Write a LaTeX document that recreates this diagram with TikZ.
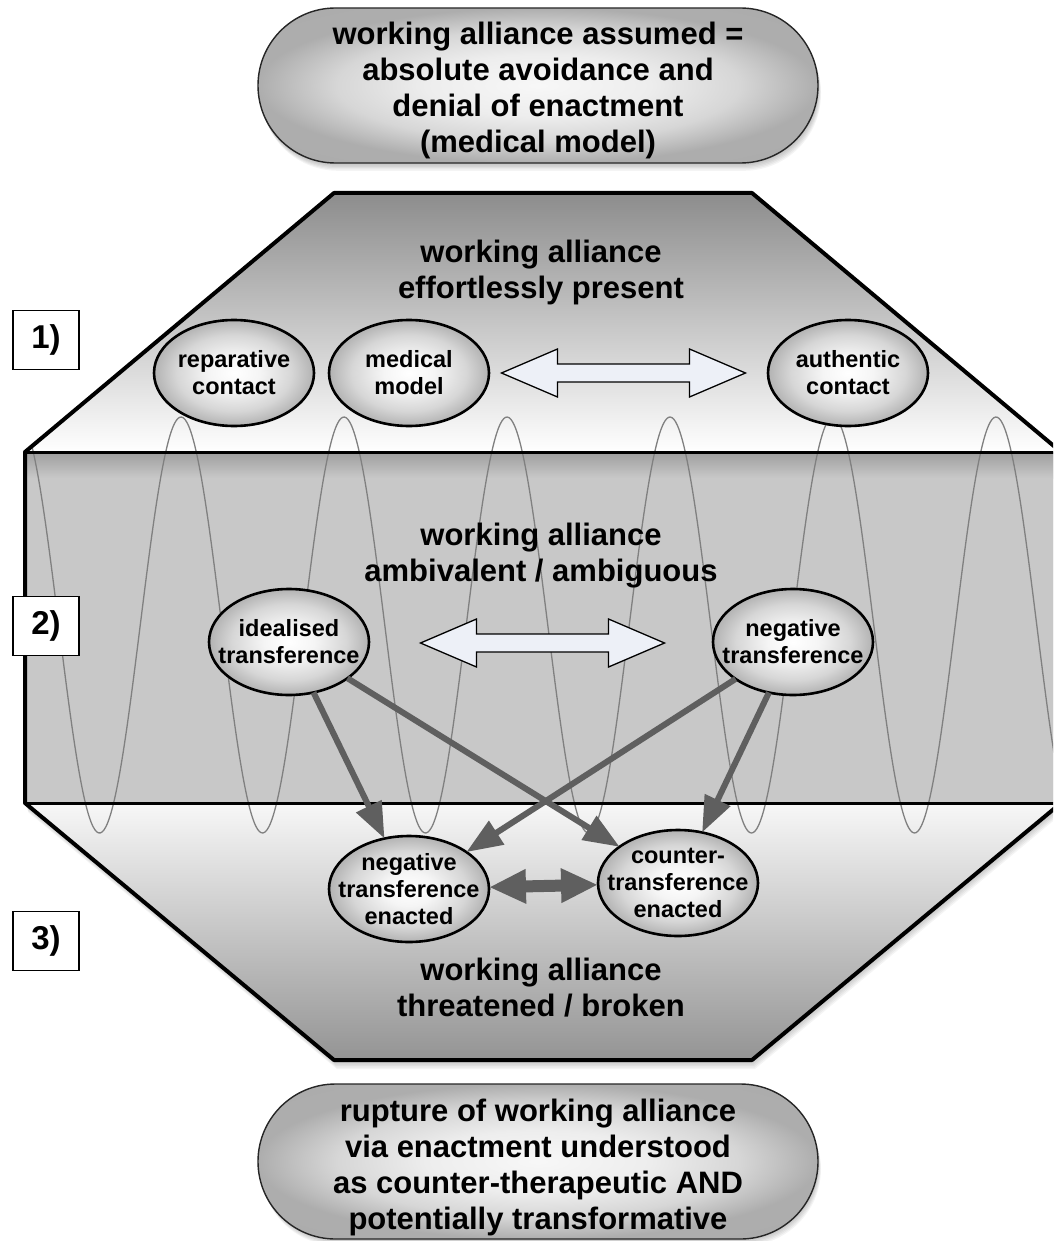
\documentclass[tikz,border=0pt]{standalone}
\usepackage{fontspec}
\setmainfont{Liberation Sans}
\usetikzlibrary{shapes.geometric,shapes.misc,arrows.meta}

\definecolor{bandgray}{RGB}{200,200,200}
\definecolor{wavegray}{RGB}{128,128,128}
\definecolor{linkgray}{RGB}{95,95,95}
\definecolor{arrowfill}{RGB}{237,240,247}

% metallic fills: bright centre, grey rim
\pgfdeclareradialshading{pillglow}{\pgfpoint{0bp}{0bp}}{color(0bp)=(black!3); color(10bp)=(black!7);
  color(18bp)=(black!16); color(25bp)=(black!32); color(50bp)=(black!34)}
\pgfdeclareradialshading{bubbleglow}{\pgfpoint{0bp}{0bp}}{color(0bp)=(white); color(8bp)=(black!4);
  color(18bp)=(black!16); color(25bp)=(black!30); color(50bp)=(black!30)}

\tikzset{
  bigtext/.style={font=\bfseries\fontsize{31}{36}\selectfont, align=center, inner sep=0pt},
  bubble/.style={ellipse, draw=black, line width=2.6pt, minimum width=160pt, minimum height=106pt,
    inner sep=0pt, outer sep=0pt, shading=bubbleglow},
  bubbletext/.style={font=\bfseries\fontsize{23.5}{27}\selectfont, align=center, inner sep=0pt},
  pill/.style={rounded rectangle, draw=black!85, line width=1.4pt, minimum width=560pt,
    minimum height=155pt, inner sep=0pt, shading=pillglow},
  numbox/.style={draw=black, line width=1.2pt, fill=white, minimum width=66pt, minimum height=59pt,
    inner sep=0pt, font=\bfseries\fontsize{33}{36}\selectfont},
  link/.style={draw=linkgray, line width=6pt, -{Triangle[length=36pt,width=27pt]}},
  twoway/.style={draw=linkgray, line width=12pt,
    {Triangle[length=37pt,width=32pt]}-{Triangle[length=37pt,width=32pt]}},
  hollow/.style={draw=black, line width=1.3pt, fill=arrowfill, line join=miter},
  frame/.style={draw=black, line width=4pt, line join=round},
  haze/.style={black, opacity=0.045},
}

% outline of the whole octagon and of its three bands
\def\octpath{(334,193) -- (752,193) -- (1061,452) -- (1061,803) -- (752,1060) -- (334,1060) -- (25,803) -- (25,452) -- cycle}
\def\uppertrap{(334,193) -- (752,193) -- (1061,452) -- (25,452) -- cycle}
\def\lowertrap{(25,803) -- (1061,803) -- (752,1060) -- (334,1060) -- cycle}

\begin{document}
\begin{tikzpicture}[x=1pt,y=-1pt]
\useasboundingbox (0,0) rectangle (1053,1241);
\clip (0,0) rectangle (1053,1241);

% soft shadows
\foreach \s in {1,...,6}{
  \fill[haze, shift={(0.5*\s,1.5*\s)}] \octpath;
  \fill[haze, shift={(0.5*\s,1.3*\s)}, rounded corners=77pt] (258,8) rectangle (818,163);
  \fill[haze, shift={(0.5*\s,1.3*\s)}, rounded corners=77pt] (258,1085) rectangle (818,1238);
}

% the three bands of the octagon
\shade[top color=black!45, bottom color=white] \uppertrap;
\shade[top color=black!3, bottom color=black!42] \lowertrap;
\fill[bandgray] (25,452) rectangle (1061,803);
\shade[top color=black!38, bottom color=bandgray] (25,452) rectangle (1061,478);

% oscillation running through the bands (period 163)
\begin{scope}
  \clip \octpath;
  \draw[wavegray, line width=1.3pt] plot[domain=10:1070, samples=600, smooth]
    (\x, {625-208*cos(2.20859*(\x-181))});
\end{scope}

% outlines
\draw[frame] \octpath;
\draw[black, line width=3pt] (25,452) -- (1061,452);
\draw[black, line width=3pt] (25,803) -- (1061,803);

% outer statements
\node[pill, label={[bigtext, yshift=-5pt]center:{working alliance assumed =\\absolute avoidance and\\denial of enactment\\(medical model)}}]
  (assumed) at (538,85.5) {};
\node[pill, label={[bigtext, yshift=-6pt]center:{rupture of working alliance\\via enactment understood\\as counter-therapeutic AND\\potentially transformative}}]
  (rupture) at (538,1161.5) {};

% level numbers
\node[numbox] (n1) at (46,340) {1)};
\node[numbox] (n2) at (46,626) {2)};
\node[numbox] (n3) at (46,941) {3)};

% band titles
\node[bigtext] (t1) at (541,272) {working alliance\\effortlessly present};
\node[bigtext] (t2) at (541,556) {working alliance\\ambivalent / ambiguous};
\node[bigtext] (t3) at (541,988) {working alliance\\threatened / broken};

% level 1
\node[bubble, label={[bubbletext]center:{reparative\\contact}}] (reparative) at (234,373) {};
\node[bubble, label={[bubbletext]center:{medical\\model}}] (medical) at (409,373) {};
\node[bubble, label={[bubbletext]center:{authentic\\contact}}] (authentic) at (848,373) {};
\coordinate (h1) at (623.5,373);
\draw[hollow, shift={(h1)}] (-122,0) -- (-66,-24) -- (-66,-9) -- (66,-9) -- (66,-24) -- (122,0)
  -- (66,24) -- (66,9) -- (-66,9) -- (-66,24) -- cycle;

% level 2
\node[bubble, label={[bubbletext]center:{idealised\\transference}}] (idealised) at (289,642) {};
\node[bubble, label={[bubbletext]center:{negative\\transference}}] (negative) at (793,642) {};
\coordinate (h2) at (542.5,643);
\draw[hollow, shift={(h2)}] (-122,0) -- (-66,-24) -- (-66,-9) -- (66,-9) -- (66,-24) -- (122,0)
  -- (66,24) -- (66,9) -- (-66,9) -- (-66,24) -- cycle;

% level 3
\node[bubble, label={[bubbletext]center:{negative\\transference\\enacted}}] (negenacted) at (409,889) {};
\node[bubble, label={[bubbletext]center:{counter-\\transference\\enacted}}] (counterenacted) at (678,883) {};

% transitions
\draw[link] (idealised) -- (negenacted);
\draw[link] (idealised) -- (counterenacted);
\draw[link] (negative) -- (negenacted);
\draw[link] (negative) -- (counterenacted);
\draw[twoway] (negenacted) -- (counterenacted);
\end{tikzpicture}
\end{document}
